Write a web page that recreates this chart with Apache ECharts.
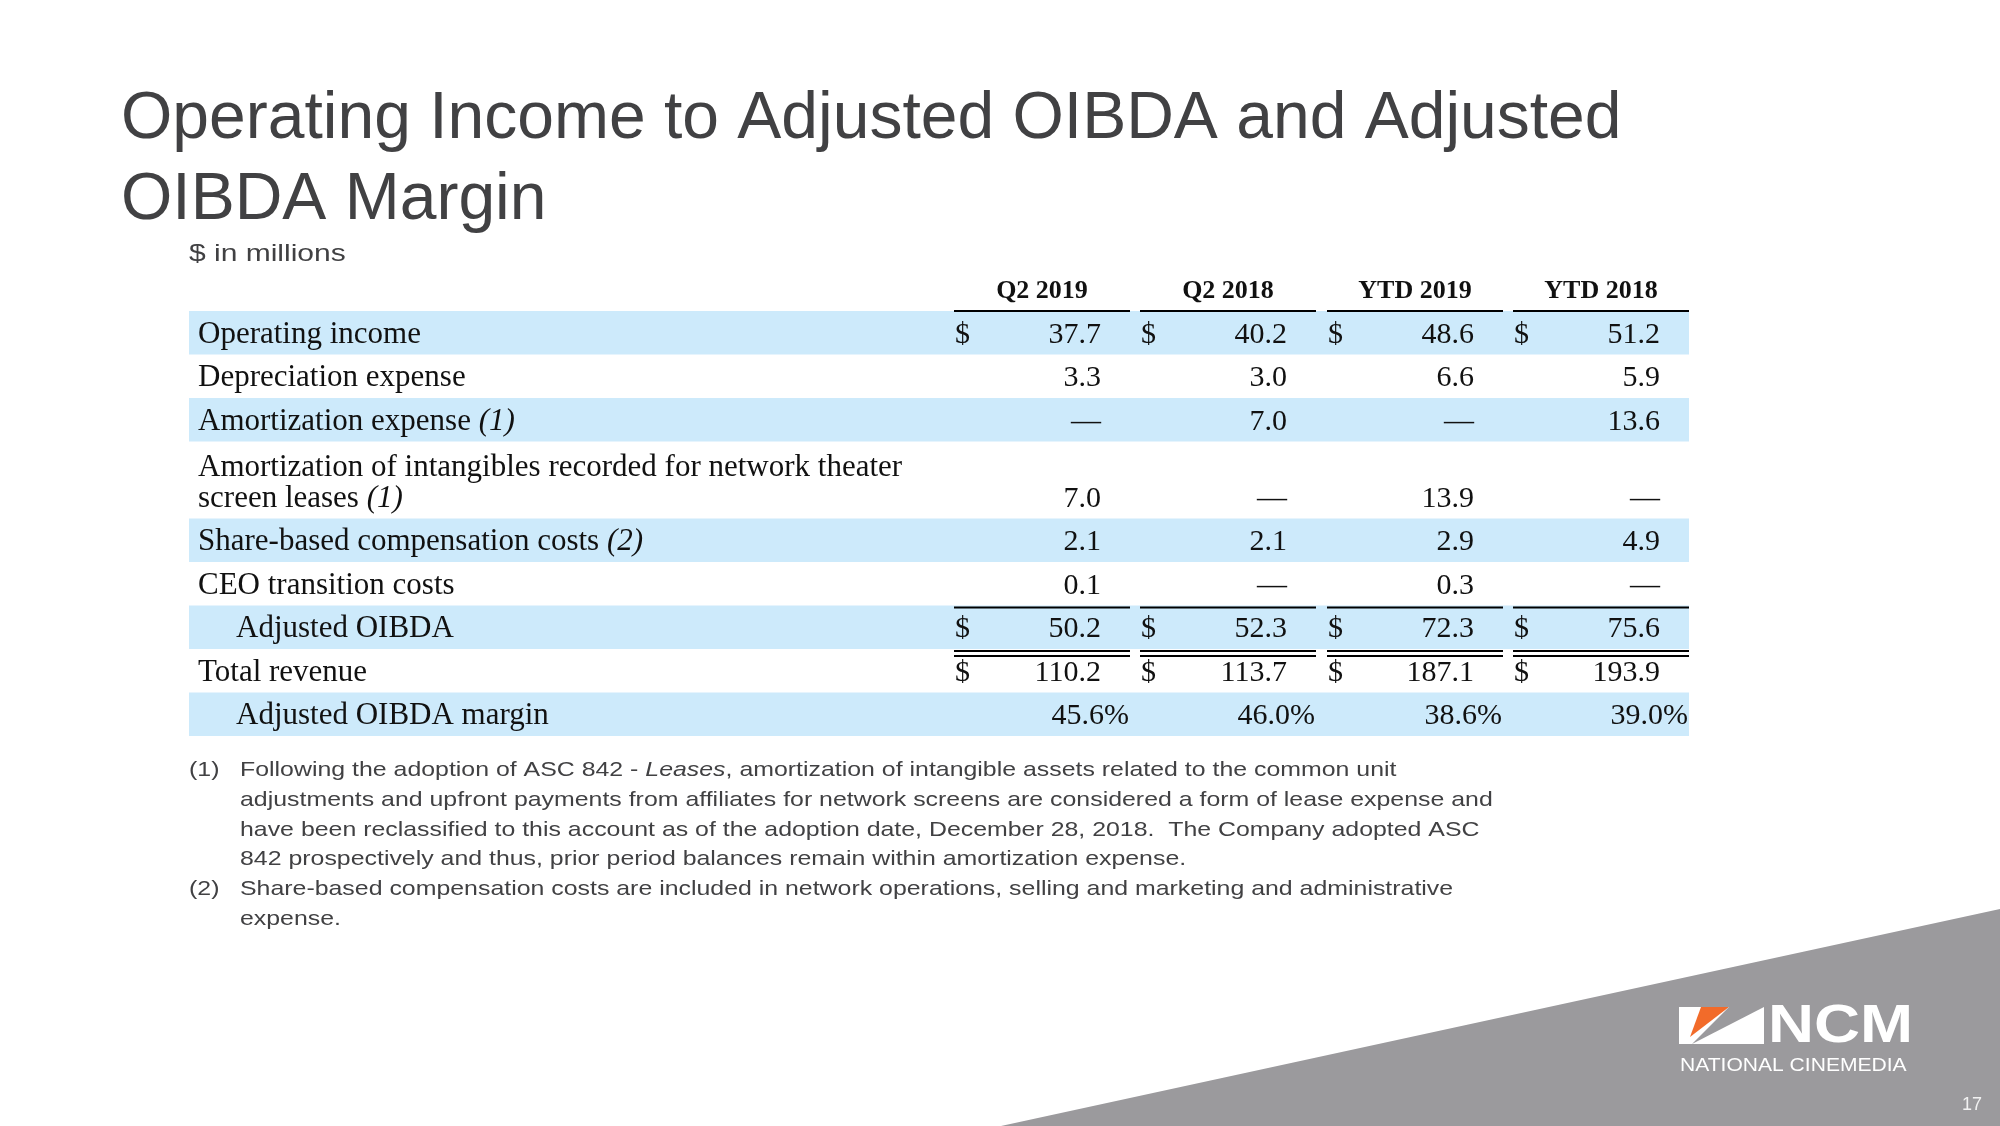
<!DOCTYPE html>
<html>
<head>
<meta charset="utf-8">
<script src="https://cdn.jsdelivr.net/npm/echarts@6/dist/echarts.min.js"></script>
<style>
html,body{margin:0;padding:0;background:#ffffff;}
#chart{width:2000px;height:1126px;}
</style>
</head>
<body>
<div id="chart"></div>
<script>
// ---------------- DATA ----------------
const titleLines = ['Operating Income to Adjusted OIBDA and Adjusted', 'OIBDA Margin'];
const subtitle = '$ in millions';
const columns = ['Q2 2019', 'Q2 2018', 'YTD 2019', 'YTD 2018'];
const rowLabels = [
  'Operating income',
  'Depreciation expense',
  'Amortization expense {i|(1)}',
  'Amortization of intangibles recorded for network theater\nscreen leases {i|(1)}',
  'Share-based compensation costs {i|(2)}',
  'CEO transition costs',
  'Adjusted OIBDA',
  'Total revenue',
  'Adjusted OIBDA margin'
];
const q2_2019  = [37.7, 3.3, null, 7.0, 2.1, 0.1, 50.2, 110.2, 45.6];
const q2_2018  = [40.2, 3.0, 7.0, null, 2.1, null, 52.3, 113.7, 46.0];
const ytd_2019 = [48.6, 6.6, null, 13.9, 2.9, 0.3, 72.3, 187.1, 38.6];
const ytd_2018 = [51.2, 5.9, 13.6, null, 4.9, null, 75.6, 193.9, 39.0];
const rowLineCount = [1, 1, 1, 2, 1, 1, 1, 1, 1];
const dollarRows = [0, 6, 7];
const percentRows = [8];
const subtotalRows = [6];
const indentedRows = [6, 8];
const shadedRows = [0, 2, 4, 6, 8];
const footnoteMarks = ['(1)', '', '', '', '(2)', ''];
const footnoteLines = [
  'Following the adoption of ASC 842 - {i|Leases}, amortization of intangible assets related to the common unit',
  'adjustments and upfront payments from affiliates for network screens are considered a form of lease expense and',
  'have been reclassified to this account as of the adoption date, December 28, 2018.  The Company adopted ASC',
  '842 prospectively and thus, prior period balances remain within amortization expense.',
  'Share-based compensation costs are included in network operations, selling and marketing and administrative',
  'expense.'
];
const logoWord = 'NCM';
const logoTagline = 'NATIONAL CINEMEDIA';
const pageNumber = '17';

// ---------------- LAYOUT / STYLE ----------------
const GRID = {left: 189, top: 311, width: 1500, height: 425};
const TABLE_W = 1500;
const EXTRA_LINE_UNITS = 0.77;
const COL_X = [765, 951, 1138, 1324];
const SEG_W = 176;
const VAL_RIGHT = 147;
const PCT_RIGHT = 175;
const LABEL_X = 9, INDENT_X = 47;
const BAND = '#cdeafb';
const SERIF = '"Liberation Serif", "Times New Roman", serif';
const SANS = '"Liberation Sans", Arial, sans-serif';
const TXT = '#111111';
const TITLE_C = '#414143';
const GRAY = '#9b9a9d';
const LABEL_SIZE = 31;
const NUM_SIZE = 30;
const FOOT_SCALE = 1.185;

const seriesCols = [q2_2019, q2_2018, ytd_2019, ytd_2018];
const spans = rowLineCount.map(n => 1 + (n - 1) * EXTRA_LINE_UNITS);
let acc = 0;
const rowData = spans.map((s, i) => { const d = [i, acc, acc + s]; acc += s; return d; });
const totalUnits = acc;

function renderRow(params, api) {
  const r = api.value(0);
  const start = api.value(1), end = api.value(2);
  const p0 = api.coord([0, start]);
  const p1 = api.coord([TABLE_W, end]);
  const left = p0[0], top = p0[1], bottom = p1[1];
  const unit = api.size([0, 1])[1];
  const cy = bottom - unit / 2 + 2;
  const children = [];
  if (shadedRows.includes(r)) {
    children.push({type: 'rect', shape: {x: left, y: top, width: TABLE_W, height: bottom - top}, style: {fill: BAND}});
  }
  const lh = 31;
  children.push({
    type: 'text',
    style: {
      text: rowLabels[r],
      x: left + (indentedRows.includes(r) ? INDENT_X : LABEL_X),
      y: cy + lh / 2,
      align: 'left', verticalAlign: 'bottom',
      fontSize: LABEL_SIZE, fontFamily: SERIF, fill: TXT, lineHeight: lh,
      rich: {i: {fontStyle: 'italic', fontSize: LABEL_SIZE, fontFamily: SERIF, fill: TXT, lineHeight: lh}}
    }
  });
  const isPct = percentRows.includes(r);
  for (let c = 0; c < seriesCols.length; c++) {
    const sx = left + COL_X[c];
    const v = seriesCols[c][r];
    const txt = v == null ? '\u2014' : v.toFixed(1) + (isPct ? '%' : '');
    children.push({
      type: 'text',
      style: {text: txt, x: sx + (isPct ? PCT_RIGHT : VAL_RIGHT), y: cy, align: 'right', verticalAlign: 'middle',
        fontSize: NUM_SIZE, fontFamily: SERIF, fill: TXT}
    });
    if (dollarRows.includes(r)) {
      children.push({
        type: 'text',
        style: {text: '$', x: sx + 1, y: cy, align: 'left', verticalAlign: 'middle', fontSize: NUM_SIZE, fontFamily: SERIF, fill: TXT}
      });
    }
    if (r === 0) {
      children.push({
        type: 'text',
        style: {text: columns[c], x: sx + SEG_W / 2, y: top - 20, align: 'center', verticalAlign: 'middle',
          fontSize: 26, fontWeight: 'bold', fontFamily: SERIF, fill: TXT}
      });
      children.push({type: 'line', shape: {x1: sx, y1: top, x2: sx + SEG_W, y2: top}, style: {stroke: '#000', lineWidth: 2}});
    }
    if (subtotalRows.includes(r)) {
      children.push({type: 'line', shape: {x1: sx, y1: top + 2, x2: sx + SEG_W, y2: top + 2}, style: {stroke: '#000', lineWidth: 2}});
      children.push({type: 'line', shape: {x1: sx, y1: bottom + 2, x2: sx + SEG_W, y2: bottom + 2}, style: {stroke: '#000', lineWidth: 2}});
      children.push({type: 'line', shape: {x1: sx, y1: bottom + 7, x2: sx + SEG_W, y2: bottom + 7}, style: {stroke: '#000', lineWidth: 2}});
    }
  }
  return {type: 'group', children: children};
}

const footY0 = 770, footStep = 29.9;
const graphics = [
  {type: 'polygon', z: 0, shape: {points: [[1001, 1126], [2000, 909], [2000, 1126]]}, style: {fill: GRAY}},
  {type: 'text', x: 121, y: 120, scaleX: 1.0, style: {text: titleLines[0], x: 0, y: 0, font: '66px ' + SANS, fill: TITLE_C, verticalAlign: 'middle'}},
  {type: 'text', x: 121, y: 201, scaleX: 1.0, style: {text: titleLines[1], x: 0, y: 0, font: '66px ' + SANS, fill: TITLE_C, verticalAlign: 'middle'}},
  {type: 'text', x: 189, y: 254, scaleX: 1.25, style: {text: subtitle, x: 0, y: 0, font: '24px ' + SANS, fill: TITLE_C, verticalAlign: 'middle'}},
  // logo
  {type: 'rect', shape: {x: 1679, y: 1007, width: 85, height: 37}, style: {fill: '#ffffff'}},
  {type: 'polygon', shape: {points: [[1701, 1007], [1729, 1007], [1690, 1037]]}, style: {fill: '#f26b2a'}},
  {type: 'polygon', shape: {points: [[1729, 1007], [1764, 1007], [1692, 1044]]}, style: {fill: GRAY}},
  {type: 'text', x: 1768, y: 1027, scaleX: 1.18, style: {text: logoWord, x: 0, y: 0, font: 'bold 54px ' + SANS, fill: '#ffffff', verticalAlign: 'middle'}},
  {type: 'text', x: 1680, y: 1066, scaleX: 1.17, style: {text: logoTagline, x: 0, y: 0, font: '18px ' + SANS, fill: '#ffffff', verticalAlign: 'middle'}},
  {type: 'text', x: 1962, y: 1105, style: {text: pageNumber, x: 0, y: 0, font: '18px ' + SANS, fill: '#f2f2f2', verticalAlign: 'middle'}}
];
footnoteLines.forEach((t, i) => {
  const y = footY0 + i * footStep;
  if (footnoteMarks[i]) {
    graphics.push({type: 'text', x: 189, y: y, scaleX: FOOT_SCALE, style: {text: footnoteMarks[i], x: 0, y: 0, font: '21px ' + SANS, fill: TITLE_C, verticalAlign: 'middle'}});
  }
  graphics.push({type: 'text', x: 240, y: y, scaleX: FOOT_SCALE, style: {text: t, x: 0, y: 0, font: '21px ' + SANS, fill: TITLE_C, verticalAlign: 'middle',
    rich: {i: {fontStyle: 'italic', fontSize: 21, fontFamily: SANS, fill: TITLE_C}}}});
});

const chart = echarts.init(document.getElementById('chart'), null, {renderer: 'canvas'});
chart.setOption({
  animation: false,
  backgroundColor: '#ffffff',
  grid: GRID,
  xAxis: {type: 'value', min: 0, max: TABLE_W, show: false},
  yAxis: {type: 'value', min: 0, max: totalUnits, inverse: true, show: false},
  graphic: graphics,
  series: [{
    type: 'custom',
    clip: false,
    coordinateSystem: 'cartesian2d',
    renderItem: renderRow,
    encode: {x: -1, y: [1, 2]},
    data: rowData,
    silent: true
  }]
});
</script>
</body>
</html>
